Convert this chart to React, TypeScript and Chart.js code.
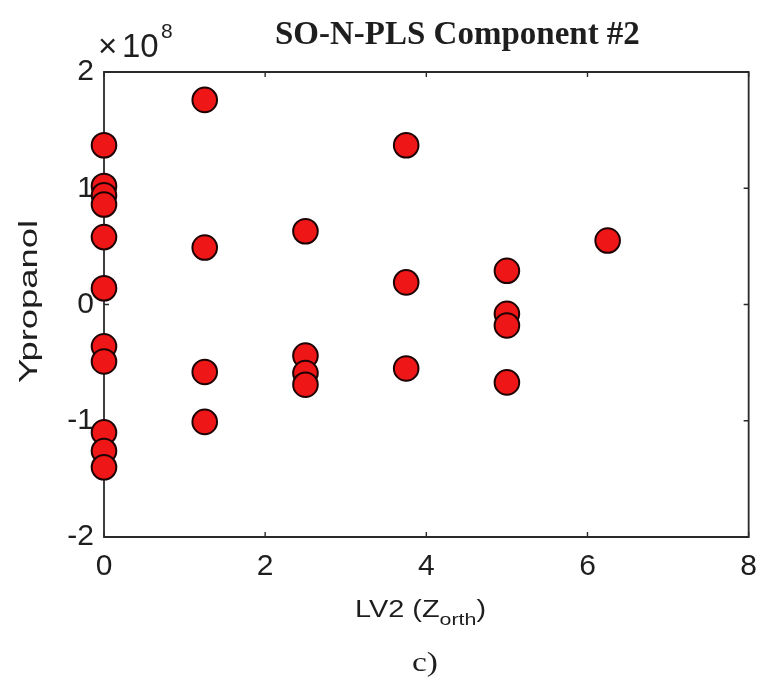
import React, { useEffect, useRef } from "react";
import { Chart, registerables } from "chart.js";

Chart.register(...registerables);

// LV2 (Z_orth) scores and matching Y propanol values (×10^8)
const lv2Scores = [
  0, 0, 0, 0, 0, 0, 0, 0, 0, 0, 0,
  1.25, 1.25, 1.25, 1.25,
  2.5, 2.5, 2.5, 2.5,
  3.75, 3.75, 3.75,
  5, 5, 5, 5,
  6.25,
];
const yPropanol = [
  1.37, 1.02, 0.94, 0.86, 0.58, 0.14, -0.36, -0.49, -1.1, -1.26, -1.4,
  1.76, 0.49, -0.58, -1.01,
  0.63, -0.44, -0.59, -0.69,
  1.37, 0.19, -0.55,
  0.29, -0.08, -0.18, -0.67,
  0.55,
].map((v) => v * 1e8);

const xTicks = [0, 2, 4, 6, 8];
const yTicks = [-2e8, -1e8, 0, 1e8, 2e8];

const titleText = "SO-N-PLS Component #2";
const yLabelText = "Ypropanol";
const xLabelMain = "LV2 (Z";
const xLabelSub = "orth";
const xLabelEnd = ")";
const exponentTimes = "\u00d7";
const exponentBase = "10";
const exponentPower = "8";
const captionText = "c)";

const SANS = '"Liberation Sans", Arial, sans-serif';
const SERIF = '"Liberation Serif", "Times New Roman", serif';
const TEXT_COLOR = "#1e1e1e";

function fitText(
  ctx: CanvasRenderingContext2D,
  text: string,
  font: string,
  x: number,
  y: number,
  width: number,
  rotate = false
) {
  ctx.save();
  ctx.font = font;
  const w = ctx.measureText(text).width;
  const s = width / w;
  ctx.translate(x, y);
  if (rotate) ctx.rotate(-Math.PI / 2);
  ctx.scale(s, 1);
  ctx.textAlign = "center";
  ctx.textBaseline = "alphabetic";
  ctx.fillStyle = TEXT_COLOR;
  ctx.fillText(text, 0, 0);
  ctx.restore();
}

const decorPlugin = {
  id: "decor",
  beforeDatasetsDraw(chart: any) {
    const ctx: CanvasRenderingContext2D = chart.ctx;
    const { left, right, top, bottom } = chart.chartArea;
    const xs = chart.scales.x;
    const ys = chart.scales.y;
    ctx.save();
    ctx.strokeStyle = "#2a2a2a";
    ctx.lineWidth = 1.8;
    ctx.beginPath();
    ctx.rect(left, top, right - left, bottom - top);
    ctx.stroke();
    ctx.lineWidth = 1.4;
    ctx.beginPath();
    const tl = 5;
    xTicks.forEach((v) => {
      const px = xs.getPixelForValue(v);
      ctx.moveTo(px, bottom);
      ctx.lineTo(px, bottom - tl);
      ctx.moveTo(px, top);
      ctx.lineTo(px, top + tl);
    });
    yTicks.forEach((v) => {
      const py = ys.getPixelForValue(v);
      ctx.moveTo(left, py);
      ctx.lineTo(left + tl, py);
      ctx.moveTo(right, py);
      ctx.lineTo(right - tl, py);
    });
    ctx.stroke();
    ctx.restore();
  },
  afterDraw(chart: any) {
    const ctx: CanvasRenderingContext2D = chart.ctx;
    ctx.save();
    ctx.fillStyle = TEXT_COLOR;
    ctx.textAlign = "left";
    ctx.textBaseline = "alphabetic";
    // title
    ctx.font = `bold 33px ${SERIF}`;
    ctx.fillText(titleText, 275, 43.5);
    // exponent
    ctx.font = `33px ${SANS}`;
    ctx.fillText(exponentTimes, 98, 57);
    ctx.fillText(exponentBase, 122, 57);
    ctx.font = `21px ${SANS}`;
    ctx.fillText(exponentPower, 161, 38);
    ctx.restore();
    // y label
    fitText(ctx, yLabelText, `25px ${SANS}`, 37, 301.5, 163, true);
    // x label with subscript
    ctx.save();
    ctx.fillStyle = TEXT_COLOR;
    ctx.textAlign = "left";
    ctx.textBaseline = "alphabetic";
    const fMain = `23px ${SANS}`;
    const fSub = `17px ${SANS}`;
    ctx.font = fMain;
    const w1 = ctx.measureText(xLabelMain).width;
    const w3 = ctx.measureText(xLabelEnd).width;
    ctx.font = fSub;
    const w2 = ctx.measureText(xLabelSub).width;
    const s = 131 / (w1 + w2 + w3);
    ctx.translate(355, 0);
    ctx.scale(s, 1);
    ctx.font = fMain;
    ctx.fillText(xLabelMain, 0, 617);
    ctx.font = fSub;
    ctx.fillText(xLabelSub, w1, 625);
    ctx.font = fMain;
    ctx.fillText(xLabelEnd, w1 + w2, 617);
    ctx.restore();
    // caption
    fitText(ctx, captionText, `28px ${SERIF}`, 425, 671, 26);
  },
};

export default function App() {
  const ref = useRef<HTMLCanvasElement | null>(null);

  useEffect(() => {
    if (!ref.current) return;
    const points = lv2Scores.map((x, i) => ({ x, y: yPropanol[i] }));
    const chart = new Chart(ref.current, {
      type: "scatter",
      data: {
        datasets: [
          {
            data: points,
            pointStyle: "circle",
            pointRadius: 12.3,
            pointHoverRadius: 12.3,
            pointBorderWidth: 2,
            backgroundColor: "#ee1616",
            borderColor: "#1e0303",
            clip: false as any,
          } as any,
        ],
      },
      options: {
        responsive: false,
        animation: false,
        events: [],
        layout: { padding: { top: 72, right: 19, left: 0, bottom: 0 } },
        plugins: {
          legend: { display: false },
          tooltip: { enabled: false },
          title: { display: false },
        },
        scales: {
          x: {
            type: "linear",
            min: 0,
            max: 8,
            afterFit: (s: any) => {
              s.height = 146;
            },
            afterBuildTicks: (s: any) => {
              s.ticks = xTicks.map((v) => ({ value: v }));
            },
            grid: { display: false, drawTicks: false },
            border: { display: false },
            ticks: {
              padding: 12,
              color: TEXT_COLOR,
              font: { family: SANS, size: 30 },
              maxRotation: 0,
              callback: (v: any) => String(v),
            },
          },
          y: {
            type: "linear",
            min: -2e8,
            max: 2e8,
            afterFit: (s: any) => {
              s.width = 104;
            },
            afterBuildTicks: (s: any) => {
              s.ticks = yTicks.map((v) => ({ value: v }));
            },
            grid: { display: false, drawTicks: false },
            border: { display: false },
            ticks: {
              padding: 10,
              color: TEXT_COLOR,
              font: { family: SANS, size: 30 },
              callback: (v: any) => String(Math.round(Number(v) / 1e8)),
            },
          },
        },
      },
      plugins: [decorPlugin],
    });
    return () => chart.destroy();
  }, []);

  return (
    <div style={{ position: "absolute", left: 0, top: 0, width: 769, height: 683, background: "#fff" }}>
      <canvas ref={ref} width={769} height={683} />
    </div>
  );
}
